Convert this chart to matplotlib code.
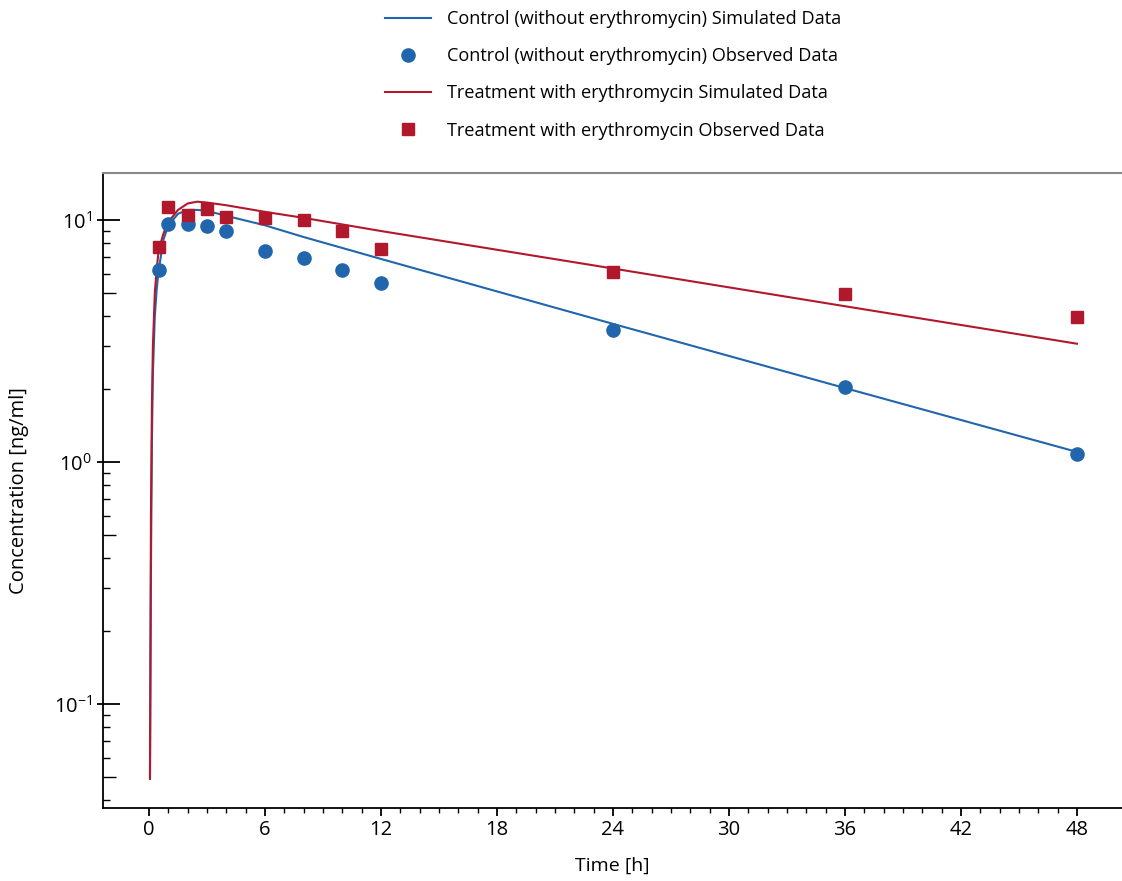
import numpy as np
import matplotlib
matplotlib.use("Agg")
import matplotlib.pyplot as plt
from matplotlib.ticker import FixedLocator, NullFormatter, LogLocator

plt.rcParams['font.family'] = ['Open Sans', 'DejaVu Sans']
plt.rcParams['mathtext.fontset'] = 'custom'
plt.rcParams['mathtext.rm'] = 'Open Sans'
plt.rcParams['mathtext.it'] = 'Open Sans:italic'
plt.rcParams['mathtext.bf'] = 'Open Sans:bold'

# ---- data ----
sim_time = [0.05, 0.1, 0.15, 0.2, 0.3, 0.4, 0.5, 0.75, 1, 1.5, 2, 2.5, 3, 4, 6, 8, 12, 24, 36, 48]
sim_control = [0.05, 0.35, 1.2, 2.3, 4.0, 5.2, 6.2, 8.3, 9.5, 10.6, 11.0, 11.0, 10.9, 10.4, 9.5, 8.5, 6.9, 3.72, 2.02, 1.10]
sim_treat = [0.049, 0.6, 1.7, 3.0, 5.0, 6.3, 7.5, 8.8, 9.8, 11.0, 11.7, 11.9, 11.8, 11.5, 10.8, 10.2, 9.0, 6.3, 4.4, 3.08]

obs_time = [0.5, 1, 2, 3, 4, 6, 8, 10, 12, 24, 36, 48]
obs_control = [6.2, 9.6, 9.6, 9.4, 9.0, 7.45, 6.97, 6.2, 5.49, 3.51, 2.04, 1.08]
obs_treat = [7.73, 11.3, 10.5, 11.1, 10.3, 10.2, 10.0, 9.0, 7.59, 6.1, 4.94, 3.98]

labels = ["Control (without erythromycin) Simulated Data",
          "Control (without erythromycin) Observed Data",
          "Treatment with erythromycin Simulated Data",
          "Treatment with erythromycin Observed Data"]

x_ticks = [0, 6, 12, 18, 24, 30, 36, 42, 48]
x_minor = list(range(0, 49))

BLUE = '#2166AC'
RED = '#B2182B'

W, H = 1122, 881
fig = plt.figure(figsize=(W / 100, H / 100), dpi=100)
pos = [103 / W, (H - 808) / H, (W - 103) / W, (808 - 173) / H]
ax = fig.add_axes(pos)

l1, = ax.plot(sim_time, sim_control, color=BLUE, lw=1.5, zorder=3)
m1, = ax.plot(obs_time, obs_control, 'o', color=BLUE, ms=9.5, lw=0, zorder=4)
l2, = ax.plot(sim_time, sim_treat, color=RED, lw=1.5, zorder=3)
m2, = ax.plot(obs_time, obs_treat, 's', color=RED, ms=8.5, lw=0, zorder=4)

ax.set_yscale('log')
ax.set_xlim(-2.38, 50.33)
ax.set_ylim(10 ** -1.43, 10 ** 1.194)

ax.set_xticks(x_ticks)
ax.xaxis.set_minor_locator(FixedLocator(x_minor))
ax.tick_params(axis='x', which='major', direction='out', length=5.5, width=1.3, labelsize=14.5, pad=3)
ax.tick_params(axis='x', which='minor', direction='out', length=3.5, width=1.0)

ax.yaxis.set_major_locator(LogLocator(base=10, numticks=10))
minor_locs = []
for e in [-2, -1, 0, 1]:
    for s in range(2, 10):
        minor_locs.append(s * 10.0 ** e)
ax.yaxis.set_minor_locator(FixedLocator(minor_locs))
ax.yaxis.set_minor_formatter(NullFormatter())
ax.tick_params(axis='y', which='major', direction='in', length=12.5, width=1.3, labelsize=14.5, pad=8)
ax.tick_params(axis='y', which='minor', direction='in', length=5, width=1.0)
mticks = ax.yaxis.get_minor_ticks(len(minor_locs))
for t, v in zip(mticks, minor_locs):
    if abs(v / 10 ** np.floor(np.log10(v) + 1e-9) - 5) < 1e-6:
        t.tick1line.set_markersize(9)

ax.spines['right'].set_visible(False)
ax.spines['top'].set_color('#888888')
ax.spines['top'].set_linewidth(1.5)
ax.spines['left'].set_linewidth(1.3)
ax.spines['bottom'].set_linewidth(1.3)

# outward stubs for major y ticks
ax2 = fig.add_axes(pos, sharey=ax)
ax2.patch.set_visible(False)
for s in ax2.spines.values():
    s.set_visible(False)
ax2.set_xticks([])
ax2.tick_params(axis='y', which='major', direction='out', length=4, width=1.3, labelleft=False)
ax2.tick_params(axis='y', which='minor', length=0)

ax.set_xlabel('Time [h]', fontsize=14, labelpad=12)
ax.set_ylabel('Concentration [ng/ml]', fontsize=14.5, labelpad=18)

fig.legend([l1, m1, l2, m2], labels, loc='upper left', bbox_to_anchor=(378 / W, 1.0 - 3 / H),
           frameon=False, fontsize=13.1, handlelength=2.5, handletextpad=0.9, labelspacing=1.05,
           borderaxespad=0)

fig.savefig('out.png', dpi=100)
